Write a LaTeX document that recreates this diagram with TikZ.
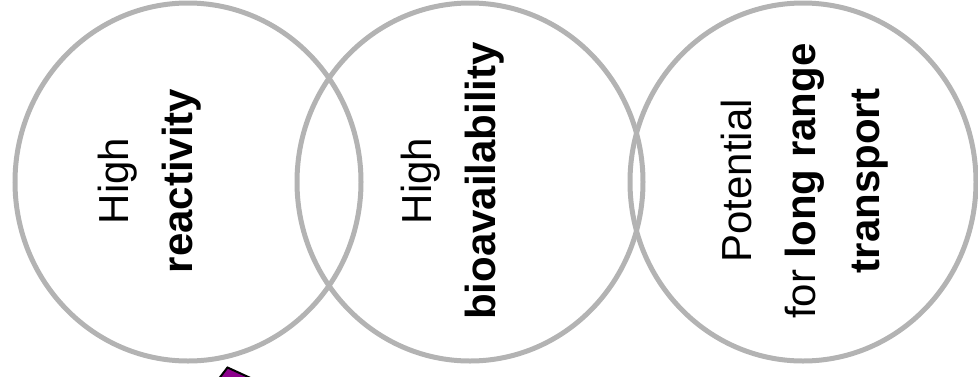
\documentclass[tikz,border=0pt]{standalone}
\usepackage{fontspec}
\setmainfont{Liberation Sans}
\usetikzlibrary{shapes.geometric, positioning}
\definecolor{ringgray}{RGB}{179,179,179}
\definecolor{mypurple}{RGB}{140,0,140}
\tikzstyle{ring} = [ellipse, draw=ringgray, line width=5pt, minimum width=346pt, minimum height=358pt, inner sep=0pt]
\tikzstyle{ringtext} = [rotate=90, align=center, font=\fontsize{42}{64}\selectfont, inner sep=0pt]

\begin{document}
\begin{tikzpicture}[x=1pt, y=-1pt]
    \clip (0,0) rectangle (978,376);
    \node (react) [ring] at (188,182) {};
    \node (bio) [ring] at (470,182) {};
    \node (lrt) [ring] at (803,182) {};
    \node (reactT) [ringtext] at ([xshift=-38pt, yshift=1pt]react.center) {High\\\textbf{reactivity}};
    \node (bioT) [ringtext] at ([xshift=-17pt, yshift=1pt]bio.center) {High\\\textbf{bioavailability}};
    \node (lrtT) [ringtext] at ([xshift=2pt, yshift=1pt]lrt.center) {Potential\\for \textbf{long range}\\\textbf{transport}};
    % arrow piece cut off at the bottom
    \filldraw[fill=mypurple, draw=black, line width=2pt] (227.5,367.5) -- (256,380.5) -- (243,398) -- (214.5,384.5) -- cycle;
\end{tikzpicture}
\end{document}
